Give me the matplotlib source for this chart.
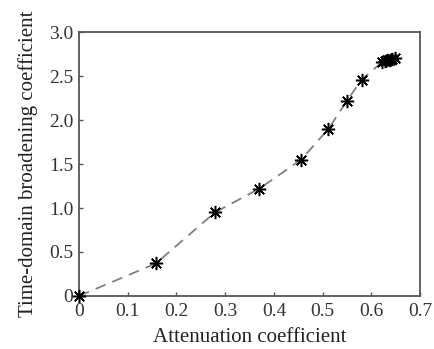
import matplotlib.pyplot as plt

plt.rcParams['font.family'] = ['Liberation Serif', 'DejaVu Serif']

# Data
atten = [0.0, 0.158, 0.279, 0.370, 0.456, 0.512, 0.550, 0.580,
         0.622, 0.628, 0.633, 0.638, 0.643, 0.648]
broad = [0.0, 0.37, 0.95, 1.22, 1.55, 1.90, 2.22, 2.46,
         2.66, 2.67, 2.68, 2.68, 2.69, 2.70]

xticks = [0, 0.1, 0.2, 0.3, 0.4, 0.5, 0.6, 0.7]
xlabels = ['0', '0.1', '0.2', '0.3', '0.4', '0.5', '0.6', '0.7']
yticks = [0, 0.5, 1.0, 1.5, 2.0, 2.5, 3.0]
ylabels = ['0', '0.5', '1.0', '1.5', '2.0', '2.5', '3.0']

fig = plt.figure(figsize=(4.34, 3.49), dpi=100)
ax = fig.add_axes([0.182, 0.152, 0.786, 0.756])

ax.plot(atten, broad, linestyle=(0, (6, 4)), color='#808080', lw=1.3)
ax.plot(atten, broad, linestyle='none', marker=(8, 2, 0), color='black',
        markersize=9.5, markeredgewidth=1.1, clip_on=False, zorder=5)

ax.set_xlim(0, 0.7)
ax.set_ylim(0, 3.0)
ax.set_xticks(xticks)
ax.set_xticklabels(xlabels)
ax.set_yticks(yticks)
ax.set_yticklabels(ylabels)
ax.tick_params(direction='in', length=3, width=1, colors='#555555',
               labelcolor='#333333', labelsize=14)
ax.tick_params(axis='x', pad=5)
ax.tick_params(axis='y', pad=4)
for s in ax.spines.values():
    s.set_color('#555555')
    s.set_linewidth(1.3)

ax.set_xlabel('Attenuation coefficient', fontsize=15, color='#222222', labelpad=6)
ax.set_ylabel('Time-domain broadening coefficient', fontsize=15, color='#222222', labelpad=8)

fig.savefig('out.png', dpi=100)
